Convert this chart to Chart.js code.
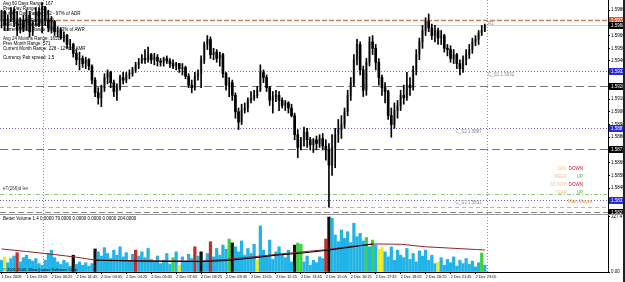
<!DOCTYPE html>
<html>
<head>
<meta charset="utf-8">
<script src="https://cdn.jsdelivr.net/npm/chart.js@4.4.0/dist/chart.umd.min.js"></script>
<style>
  html, body { margin: 0; padding: 0; background: #fff; }
  #wrap { position: relative; width: 625px; height: 282px; overflow: hidden; }
  canvas { position: absolute; left: 0; }
  #price { top: 0; }
  #vol { top: 214px; }
</style>
</head>
<body>
<div id="wrap">
  <canvas id="price" width="625" height="214"></canvas>
  <canvas id="vol" width="625" height="68"></canvas>
</div>
<script>
// 10 minute bars, a time label every 8 bars
const timeLabels = ['1 Dec 2009', '1 Dec 23:05', '2 Dec 00:25', '2 Dec 01:45', '2 Dec 03:05',
    '2 Dec 04:25', '2 Dec 05:45', '2 Dec 07:05', '2 Dec 08:25', '2 Dec 09:45', '2 Dec 11:05',
    '2 Dec 12:25', '2 Dec 13:45', '2 Dec 15:05', '2 Dec 16:25', '2 Dec 17:45', '2 Dec 19:05',
    '2 Dec 20:25', '2 Dec 21:45', '2 Dec 23:05'];
const barsOnScreen = 195; // incl. the empty shift space at the right

const open = [
    1.5972, 1.5979, 1.5968, 1.5974, 1.5980, 1.5971, 1.5964, 1.5972, 1.5966, 1.5976,
    1.5963, 1.5971, 1.5979, 1.5968, 1.5982, 1.5972, 1.5966, 1.5971, 1.5963, 1.5964,
    1.5958, 1.5960, 1.5953, 1.5953, 1.5946, 1.5941, 1.5942, 1.5938, 1.5941, 1.5936,
    1.5925, 1.5915, 1.5911, 1.5919, 1.5927, 1.5931, 1.5923, 1.5916, 1.5919, 1.5927,
    1.5925, 1.5929, 1.5930, 1.5933, 1.5937, 1.5939, 1.5942, 1.5941, 1.5945, 1.5941,
    1.5943, 1.5940, 1.5939, 1.5942, 1.5940, 1.5938, 1.5936, 1.5938, 1.5934, 1.5935,
    1.5928, 1.5921, 1.5919, 1.5928, 1.5930, 1.5941, 1.5953, 1.5957, 1.5945, 1.5947,
    1.5942, 1.5945, 1.5930, 1.5921, 1.5923, 1.5913, 1.5900, 1.5892, 1.5901, 1.5903,
    1.5909, 1.5911, 1.5913, 1.5917, 1.5931, 1.5927, 1.5919, 1.5909, 1.5912, 1.5913,
    1.5909, 1.5905, 1.5907, 1.5903, 1.5897, 1.5882, 1.5872, 1.5878, 1.5884, 1.5878,
    1.5874, 1.5878, 1.5875, 1.5879, 1.5873, 1.5870, 1.5858, 1.5872, 1.5882, 1.5886,
    1.5890, 1.5900, 1.5913, 1.5923, 1.5941, 1.5953, 1.5933, 1.5917, 1.5939, 1.5955,
    1.5950, 1.5939, 1.5927, 1.5919, 1.5916, 1.5897, 1.5890, 1.5901, 1.5905, 1.5913,
    1.5911, 1.5921, 1.5919, 1.5933, 1.5945, 1.5955, 1.5964, 1.5971, 1.5966, 1.5960,
    1.5964, 1.5958, 1.5960, 1.5950, 1.5949, 1.5942, 1.5945, 1.5938, 1.5934, 1.5941,
    1.5945, 1.5949, 1.5955, 1.5957, 1.5962, 1.5964
];
const high = [
    1.5980, 1.5980, 1.5976, 1.5982, 1.5982, 1.5979, 1.5974, 1.5976, 1.5980, 1.5979,
    1.5972, 1.5982, 1.5982, 1.5986, 1.5983, 1.5980, 1.5975, 1.5972, 1.5967, 1.5966,
    1.5963, 1.5961, 1.5957, 1.5954, 1.5949, 1.5947, 1.5944, 1.5943, 1.5942, 1.5937,
    1.5927, 1.5919, 1.5921, 1.5930, 1.5933, 1.5932, 1.5925, 1.5922, 1.5929, 1.5931,
    1.5931, 1.5933, 1.5935, 1.5939, 1.5942, 1.5945, 1.5949, 1.5951, 1.5946, 1.5946,
    1.5945, 1.5942, 1.5943, 1.5944, 1.5942, 1.5941, 1.5939, 1.5938, 1.5938, 1.5936,
    1.5930, 1.5925, 1.5931, 1.5933, 1.5944, 1.5955, 1.5960, 1.5959, 1.5950, 1.5949,
    1.5947, 1.5946, 1.5931, 1.5927, 1.5925, 1.5915, 1.5903, 1.5906, 1.5907, 1.5911,
    1.5916, 1.5917, 1.5920, 1.5937, 1.5933, 1.5929, 1.5920, 1.5916, 1.5917, 1.5916,
    1.5911, 1.5909, 1.5908, 1.5906, 1.5899, 1.5886, 1.5880, 1.5888, 1.5887, 1.5880,
    1.5879, 1.5881, 1.5882, 1.5883, 1.5878, 1.5875, 1.5882, 1.5887, 1.5894, 1.5897,
    1.5903, 1.5917, 1.5927, 1.5945, 1.5957, 1.5955, 1.5936, 1.5942, 1.5959, 1.5960,
    1.5953, 1.5942, 1.5929, 1.5923, 1.5917, 1.5903, 1.5907, 1.5909, 1.5917, 1.5921,
    1.5931, 1.5927, 1.5936, 1.5949, 1.5958, 1.5968, 1.5974, 1.5977, 1.5969, 1.5968,
    1.5966, 1.5964, 1.5961, 1.5953, 1.5952, 1.5949, 1.5946, 1.5941, 1.5944, 1.5949,
    1.5953, 1.5958, 1.5960, 1.5964, 1.5968, 1.5969
];
const low = [
    1.5966, 1.5964, 1.5964, 1.5971, 1.5967, 1.5960, 1.5962, 1.5963, 1.5964, 1.5959,
    1.5960, 1.5968, 1.5967, 1.5962, 1.5968, 1.5963, 1.5962, 1.5960, 1.5959, 1.5957,
    1.5955, 1.5950, 1.5949, 1.5943, 1.5937, 1.5933, 1.5935, 1.5934, 1.5933, 1.5922,
    1.5912, 1.5906, 1.5904, 1.5916, 1.5922, 1.5919, 1.5912, 1.5909, 1.5917, 1.5922,
    1.5923, 1.5926, 1.5928, 1.5931, 1.5934, 1.5938, 1.5938, 1.5939, 1.5938, 1.5937,
    1.5936, 1.5936, 1.5936, 1.5938, 1.5935, 1.5934, 1.5933, 1.5931, 1.5929, 1.5926,
    1.5919, 1.5915, 1.5917, 1.5925, 1.5919, 1.5938, 1.5949, 1.5942, 1.5941, 1.5939,
    1.5936, 1.5927, 1.5917, 1.5912, 1.5909, 1.5895, 1.5886, 1.5890, 1.5899, 1.5900,
    1.5907, 1.5909, 1.5911, 1.5916, 1.5923, 1.5916, 1.5905, 1.5899, 1.5908, 1.5901,
    1.5903, 1.5901, 1.5899, 1.5896, 1.5878, 1.5864, 1.5870, 1.5873, 1.5872, 1.5870,
    1.5868, 1.5870, 1.5872, 1.5870, 1.5862, 1.5825, 1.5850, 1.5856, 1.5876, 1.5879,
    1.5887, 1.5897, 1.5909, 1.5920, 1.5937, 1.5929, 1.5912, 1.5913, 1.5936, 1.5945,
    1.5933, 1.5921, 1.5913, 1.5907, 1.5894, 1.5880, 1.5887, 1.5895, 1.5901, 1.5906,
    1.5909, 1.5913, 1.5917, 1.5929, 1.5941, 1.5950, 1.5960, 1.5963, 1.5957, 1.5955,
    1.5953, 1.5953, 1.5947, 1.5944, 1.5939, 1.5938, 1.5934, 1.5929, 1.5931, 1.5937,
    1.5942, 1.5946, 1.5952, 1.5953, 1.5960, 1.5963
];
const close = [
    1.5979, 1.5968, 1.5974, 1.5980, 1.5971, 1.5964, 1.5972, 1.5966, 1.5976, 1.5963,
    1.5971, 1.5979, 1.5968, 1.5982, 1.5972, 1.5966, 1.5971, 1.5963, 1.5964, 1.5958,
    1.5960, 1.5953, 1.5953, 1.5946, 1.5941, 1.5942, 1.5938, 1.5941, 1.5936, 1.5925,
    1.5915, 1.5911, 1.5919, 1.5927, 1.5931, 1.5923, 1.5916, 1.5919, 1.5927, 1.5925,
    1.5929, 1.5930, 1.5933, 1.5937, 1.5939, 1.5942, 1.5941, 1.5945, 1.5941, 1.5943,
    1.5940, 1.5939, 1.5942, 1.5940, 1.5938, 1.5936, 1.5938, 1.5934, 1.5935, 1.5928,
    1.5921, 1.5919, 1.5928, 1.5930, 1.5941, 1.5953, 1.5957, 1.5945, 1.5947, 1.5942,
    1.5945, 1.5930, 1.5921, 1.5923, 1.5913, 1.5900, 1.5892, 1.5901, 1.5903, 1.5909,
    1.5911, 1.5913, 1.5917, 1.5931, 1.5927, 1.5919, 1.5909, 1.5912, 1.5913, 1.5909,
    1.5905, 1.5907, 1.5903, 1.5897, 1.5882, 1.5872, 1.5878, 1.5884, 1.5878, 1.5874,
    1.5878, 1.5875, 1.5879, 1.5873, 1.5870, 1.5858, 1.5872, 1.5882, 1.5886, 1.5890,
    1.5900, 1.5913, 1.5923, 1.5941, 1.5953, 1.5933, 1.5917, 1.5939, 1.5955, 1.5950,
    1.5939, 1.5927, 1.5919, 1.5916, 1.5897, 1.5890, 1.5901, 1.5905, 1.5913, 1.5911,
    1.5921, 1.5919, 1.5933, 1.5945, 1.5955, 1.5964, 1.5971, 1.5966, 1.5960, 1.5964,
    1.5958, 1.5960, 1.5950, 1.5949, 1.5942, 1.5945, 1.5938, 1.5934, 1.5941, 1.5945,
    1.5949, 1.5955, 1.5957, 1.5962, 1.5964, 1.5968
];

// Better Volume panel
const volume = [
    70, 90, 55, 80, 95, 115, 60, 85, 100, 75,
    65, 80, 50, 40, 70, 110, 130, 85, 60, 45,
    70, 55, 35, 100, 45, 60, 40, 55, 35, 50,
    137, 120, 95, 145, 110, 80, 130, 100, 150, 90,
    115, 70, 105, 130, 95, 120, 85, 140, 75, 60,
    95, 50, 70, 110, 45, 85, 120, 40, 90, 65,
    105, 80, 150, 95, 120, 70, 110, 180, 90, 140,
    100, 160, 135, 196, 173, 150, 120, 185, 100, 140,
    110, 165, 70, 274, 130, 95, 190, 75, 120, 150,
    100, 85, 130, 60, 160, 172, 165, 60, 95, 40,
    70, 55, 90, 80, 196, 327, 320, 220, 180, 250,
    200, 240, 175, 290, 210, 230, 185, 205, 150, 190,
    160, 135, 145, 120, 90, 150, 70, 130, 100, 85,
    140, 75, 110, 60, 125, 95, 130, 70, 100, 50,
    60, 85, 40, 75, 55, 90, 35, 70, 50, 80,
    45, 65, 30, 55, 113, 40
];
// r = climax up, k = climax down, g = churn, y = low volume, the rest normal
const volSpecialIdx = [1, 5, 23, 30, 43, 55, 57, 62, 64, 67, 73, 74, 82, 94, 95, 96, 104, 105, 117, 119, 121, 122, 140, 154];
const volSpecialType = ['y', 'r', 'k', 'k', 'r', 'g', 'y', 'r', 'k', 'r', 'g', 'k', 'y', 'k', 'g', 'g', 'r', 'k', 'g', 'g', 'y', 'y', 'y', 'g'];
const volMaIdx = [0, 8, 16, 24, 30, 40, 48, 56, 64, 72, 80, 88, 96, 104, 112, 120, 128, 136, 144, 152, 155];
const volMa = [137, 122, 106, 88, 71, 68, 67, 66, 65, 75, 89, 105, 119, 133, 152, 167, 165, 150, 142, 134, 131];
const volMa2Idx = [30, 40, 48, 56, 64, 72, 80, 88, 96, 104, 112, 119];
const volMa2 = [70, 66, 64, 63, 62, 68, 82, 100, 112, 128, 148, 167];
const volTicks = [0, 327.4];
const volHeader = 'Better Volume 1.4 0.0000 79.0000 0.0000 0.0000 0.0000 204.0000';

// pivot / support levels drawn as horizontal lines
const levelNames = ['R1', 'C_S1', 'P1', 'C_S2', 'P2', 'YL', 'C_S3', 'ML', 'WL'];
const levelPrices = [1.5972, 1.5932, 1.5920, 1.5887, 1.5871, 1.5835, 1.5831, 1.5825, 1.5821];
const daySepIdx = [13.4, 155.6];

const infoLines = [
    'Avg 60 Days Range: 167',
    'Prev Day Range: 165',
    'Current Day Range: 162 - 97% of ADR',
    'Avg 5 Weeks Range: 482',
    'Prev Week Range: 515',
    'Current Week Range: 306 - 63% of AWR',
    'Avg 24 Months Range: 1651',
    'Prev Month Range: 571',
    'Current Month Range: 228 - 12% of AMR',
    'Currency Pair spread: 1.5'
];
const trendNames = ['DAY', 'WEEK', 'MONTH', 'YEAR'];
const trendDirs = ['DOWN', 'UP', 'DOWN', 'UP'];

// ---- styles ----
const FONT = '"Liberation Sans", Arial, sans-serif';
const fnt = (sz) => sz + 'px ' + FONT;
const infoRowsY = [3.5, 8.5, 13.5, 20.5, 25, 29.5, 39, 44, 49, 58];
const volColors = { n: '#22b4e6', r: '#c0312b', k: '#111111', g: '#3fd23f', y: '#f0ec1c' };
const levelStyle = {
    R1:   { color: '#c8845c', dash: [5, 2], width: 1.5, box: '#e0602a', tag: 'R1', tagAt: 156, tagAlign: 'left' },
    C_S1: { color: '#6a6ad0', dash: [1, 2], width: 1, box: '#2a2ad8', tag: 'C_S1', tagAt: 156, tagAlign: 'left' },
    P1:   { color: '#777777', dash: [8, 4], width: 1, box: '#000000' },
    C_S2: { color: '#6a6ad0', dash: [1, 2], width: 1, box: '#2a2ad8', tag: 'C_S2', tagAt: 154, tagAlign: 'right' },
    P2:   { color: '#777777', dash: [8, 4], width: 1, box: '#000000' },
    YL:   { color: '#8cc87c', dash: [4, 2, 1, 2], width: 1 },
    C_S3: { color: '#6a6ad0', dash: [1, 2], width: 1, box: '#2a2ad8', tag: 'C_S3', tagAt: 154, tagAlign: 'right' },
    ML:   { color: '#e0a888', dash: [4, 3], width: 1 },
    WL:   { color: '#8a8a8a', dash: [6, 3], width: 1, box: '#000000' }
};

const cats = [];
for (let i = 0; i < barsOnScreen; i++) {
    cats.push(i % 8 === 0 && timeLabels[i / 8] ? timeLabels[i / 8] : '');
}

function hline(ctx, x0, x1, yy, color, dash, width) {
    ctx.beginPath();
    ctx.setLineDash(dash);
    ctx.strokeStyle = color;
    ctx.lineWidth = width;
    const py = Math.round(yy) + 0.5;
    ctx.moveTo(x0, py);
    ctx.lineTo(x1, py);
    ctx.stroke();
}

function vline(ctx, xx, y0, y1) {
    ctx.beginPath();
    ctx.setLineDash([1, 2]);
    ctx.strokeStyle = '#8f8f8f';
    ctx.lineWidth = 1;
    const px = Math.round(xx) + 0.5;
    ctx.moveTo(px, y0);
    ctx.lineTo(px, y1);
    ctx.stroke();
}

function axisBox(ctx, chart, yy, color, text) {
    const left = chart.chartArea.right + 1;
    ctx.setLineDash([]);
    ctx.fillStyle = color;
    ctx.fillRect(left, Math.round(yy) - 3, chart.width - left, 7);
    ctx.fillStyle = '#ffffff';
    ctx.font = fnt(4.5);
    ctx.textAlign = 'left';
    ctx.textBaseline = 'middle';
    ctx.fillText(text, left + 2, Math.round(yy) + 0.5);
}

const pricePlugin = {
    id: 'priceOverlay',
    beforeDatasetsDraw(chart) {
        const { ctx, chartArea: a, scales: { x, y } } = chart;
        ctx.save();
        const bid = close[close.length - 1];
        hline(ctx, a.left, a.right, y.getPixelForValue(bid), '#cfcfcf', [], 1);
        levelNames.forEach((nm, i) => {
            const st = levelStyle[nm];
            hline(ctx, a.left, a.right, y.getPixelForValue(levelPrices[i]), st.color, st.dash, st.width);
        });
        daySepIdx.forEach(v => vline(ctx, x.getPixelForValue(v), a.top, a.bottom));
        ctx.restore();
    },
    afterDraw(chart) {
        const { ctx, chartArea: a, scales: { x, y } } = chart;
        ctx.save();
        // price tags on the axis
        levelNames.forEach((nm, i) => {
            const st = levelStyle[nm];
            if (st.box) axisBox(ctx, chart, y.getPixelForValue(levelPrices[i]), st.box, levelPrices[i].toFixed(5));
        });
        const bid = close[close.length - 1];
        axisBox(ctx, chart, y.getPixelForValue(bid), '#000000', bid.toFixed(5));

        // level captions
        ctx.font = fnt(4.5);
        ctx.textBaseline = 'middle';
        ctx.fillStyle = '#8a8a8a';
        levelNames.forEach((nm, i) => {
            const st = levelStyle[nm];
            if (!st.tag) return;
            ctx.textAlign = st.tagAlign;
            const txt = st.tag === 'R1' ? 'R1' : st.tag + ' ' + levelPrices[i].toFixed(4);
            ctx.fillText(txt, x.getPixelForValue(st.tagAt), y.getPixelForValue(levelPrices[i]) + 3.5);
        });

        // range info block
        ctx.fillStyle = '#000000';
        ctx.textAlign = 'left';
        infoLines.forEach((t, i) => ctx.fillText(t, 3, infoRowsY[i]));

        ctx.fillStyle = '#333333';
        ctx.fillText('eT(266)d lev', 3, 189);

        // trend legend
        trendNames.forEach((t, i) => {
            const yy = 169 + i * 8;
            ctx.textAlign = 'right';
            ctx.fillStyle = '#f2c8a4';
            ctx.fillText(t, 567, yy);
            ctx.fillStyle = trendDirs[i] === 'UP' ? '#3cc83c' : '#c8142a';
            ctx.fillText(trendDirs[i], 583, yy);
        });
        ctx.textAlign = 'left';
        ctx.fillStyle = '#e39434';
        ctx.fillText('Main Moves', 568, 202);

        // right window edge
        ctx.fillStyle = '#222222';
        ctx.fillRect(chart.width - 2, 0, 2, chart.height);
        ctx.restore();
    }
};

const volPlugin = {
    id: 'volOverlay',
    beforeDatasetsDraw(chart) {
        const { ctx, chartArea: a, scales: { x } } = chart;
        ctx.save();
        daySepIdx.forEach(v => vline(ctx, x.getPixelForValue(v), a.top, a.bottom));
        ctx.restore();
    },
    afterDraw(chart) {
        const { ctx } = chart;
        ctx.save();
        ctx.setLineDash([]);
        ctx.strokeStyle = '#9a9a9a';
        ctx.lineWidth = 1;
        ctx.beginPath();
        ctx.moveTo(0, 0.5);
        ctx.lineTo(chart.width, 0.5);
        ctx.stroke();
        ctx.font = fnt(4.5);
        ctx.textAlign = 'left';
        ctx.textBaseline = 'middle';
        ctx.fillStyle = '#000000';
        ctx.fillText(volHeader, 3, 4.5);
        ctx.font = fnt(4);
        ctx.fillText('\u00a9 2001-2009, MetaQuotes Software Corp.', 3, 56);
        ctx.fillStyle = '#222222';
        ctx.fillRect(chart.width - 2, 0, 2, chart.height);
        ctx.restore();
    }
};

const zeroPad = (s) => { s.paddingTop = 0; s.paddingBottom = 0; s.paddingLeft = 0; s.paddingRight = 0; };

// ---- price panel ----
const wickData = high.map((h, i) => [low[i], h]);
const bodyData = open.map((o, i) => [Math.min(o, close[i]), Math.max(o, close[i])]);

new Chart(document.getElementById('price'), {
    type: 'bar',
    data: {
        labels: cats,
        datasets: [
            {
                data: bodyData,
                backgroundColor: c => close[c.dataIndex] >= open[c.dataIndex] ? '#a6a6a6' : '#000000',
                barThickness: 2,
                grouped: false,
                order: 2
            },
            {
                data: wickData,
                backgroundColor: '#000000',
                barThickness: 1,
                grouped: false,
                order: 1
            }
        ]
    },
    options: {
        responsive: false,
        animation: false,
        devicePixelRatio: 1,
        layout: { padding: 0 },
        plugins: { legend: { display: false }, tooltip: { enabled: false } },
        scales: {
            x: { display: false, offset: true, grid: { display: false } },
            y: {
                position: 'right',
                min: 1.58196,
                max: 1.5988,
                border: { display: true, color: '#000000' },
                grid: { display: true, drawOnChartArea: false, drawTicks: true, tickLength: 2, color: '#000000' },
                ticks: {
                    stepSize: 0.001,
                    includeBounds: false,
                    padding: 1,
                    color: '#000000',
                    font: { size: 4.5, family: FONT },
                    callback: v => v.toFixed(5)
                },
                afterFit: s => { s.width = 17; zeroPad(s); }
            }
        }
    },
    plugins: [pricePlugin]
});

// ---- volume panel ----
const volTypes = volume.map(() => 'n');
volSpecialIdx.forEach((idx, k) => { volTypes[idx] = volSpecialType[k]; });
const maLine = new Array(volume.length).fill(null);
volMaIdx.forEach((idx, k) => { maLine[idx] = volMa[k]; });
const maLine2 = new Array(volume.length).fill(null);
volMa2Idx.forEach((idx, k) => { maLine2[idx] = volMa2[k]; });

new Chart(document.getElementById('vol'), {
    type: 'bar',
    data: {
        labels: cats,
        datasets: [
            {
                type: 'line',
                data: maLine,
                borderColor: '#8e2626',
                borderWidth: 1,
                pointRadius: 0,
                spanGaps: true,
                order: 1
            },
            {
                type: 'line',
                data: maLine2,
                borderColor: '#000000',
                borderWidth: 1,
                pointRadius: 0,
                spanGaps: true,
                order: 0
            },
            {
                data: volume,
                backgroundColor: c => volColors[volTypes[c.dataIndex]],
                barThickness: 2.6,
                order: 2
            }
        ]
    },
    options: {
        responsive: false,
        animation: false,
        devicePixelRatio: 1,
        layout: { padding: 0 },
        plugins: { legend: { display: false }, tooltip: { enabled: false } },
        scales: {
            x: {
                offset: true,
                border: { display: true, color: '#000000' },
                grid: {
                    display: true, offset: false, drawOnChartArea: false, drawTicks: true, tickLength: 2,
                    color: c => (c.tick && c.tick.label) ? '#000000' : 'rgba(0,0,0,0)'
                },
                ticks: {
                    autoSkip: false,
                    maxRotation: 0,
                    minRotation: 0,
                    align: 'start',
                    padding: 1,
                    color: '#000000',
                    font: { size: 3.9, family: FONT }
                },
                afterFit: s => { s.height = 10; zeroPad(s); }
            },
            y: {
                position: 'right',
                min: 0,
                max: 345,
                border: { display: true, color: '#000000' },
                grid: { display: true, drawOnChartArea: false, drawTicks: true, tickLength: 2, color: '#000000' },
                afterBuildTicks: s => { s.ticks = volTicks.map(v => ({ value: v })); },
                ticks: {
                    padding: 1,
                    color: '#000000',
                    font: { size: 4.5, family: FONT },
                    callback: v => v === 0 ? '0.00' : v.toFixed(1)
                },
                afterFit: s => { s.width = 17; zeroPad(s); }
            }
        }
    },
    plugins: [volPlugin]
});
</script>
</body>
</html>
